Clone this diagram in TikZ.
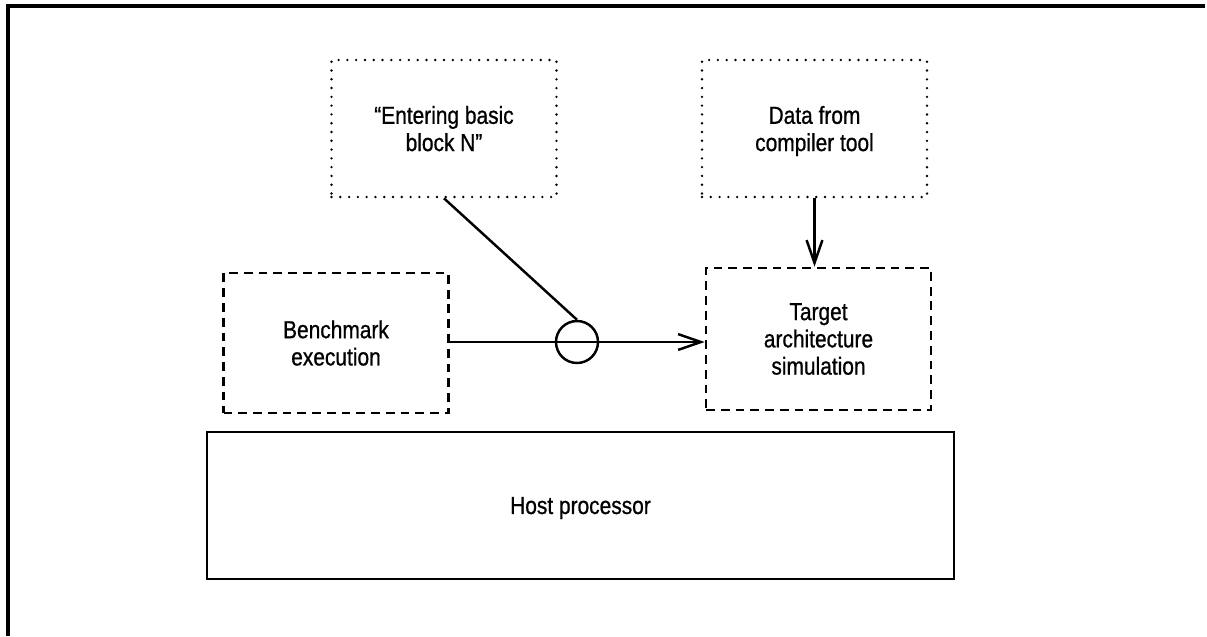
\documentclass[tikz,border=0pt]{standalone}
\usepackage{fontspec}
\setmainfont{Liberation Sans}[FakeStretch=0.85, FakeBold=0.8]
\usetikzlibrary{arrows.meta,positioning,calc}

\tikzset{
    dotbox/.style={rectangle, draw, line width=1.5pt, line cap=round, dash pattern=on 0pt off 5pt, align=center, minimum width=4.5cm, minimum height=2.74cm},
    dashbox/.style={rectangle, draw, line width=1.5pt, dash pattern=on 5pt off 3.4pt, align=center, minimum width=4.5cm, minimum height=2.8cm},
    link/.style={line width=1.4pt},
    flow/.style={line width=1.4pt, -{Straight Barb[length=13pt, width=9pt, line width=1.4pt]}}
}

\begin{document}
\begin{tikzpicture}[font=\fontsize{14}{15.5}\selectfont]
        \useasboundingbox (0,0) rectangle (24.14,-12.72);
        % Page frame
        \draw[line width=1.9pt] (0.16,-12.72) -- (0.16,-0.12) -- (24.1,-0.12);

        % Inputs
        \node (entry) [dotbox, text depth=-0.1cm] at (8.88,-2.57) {``Entering basic\\block N''};
        \node (data) [dotbox, text depth=-0.1cm] at (16.29,-2.57) {Data from\\compiler tool};

        % Simulated parts
        \node (bench) [dashbox] at (6.72,-6.86) {Benchmark\\execution};
        \node (target) [dashbox, minimum height=2.84cm] at (16.37,-6.78) {Target\\architecture\\simulation};
        \node (tap) [circle, draw, line width=1.4pt, minimum size=0.84cm, inner sep=0pt] at (11.54,-6.84) {};

        % Host
        \node (host) [rectangle, draw, line width=1.3pt, minimum width=14.94cm, minimum height=2.94cm, text depth=-0.15cm] at (11.61,-10.11) {Host processor};

        % Connections
        \draw[flow] (bench.east |- tap) -- (target.west |- tap);
        \draw[link] (entry.south) -- (tap.north);
        \draw[flow] (data.south) -- (data.south |- target.north);
\end{tikzpicture}
\end{document}
